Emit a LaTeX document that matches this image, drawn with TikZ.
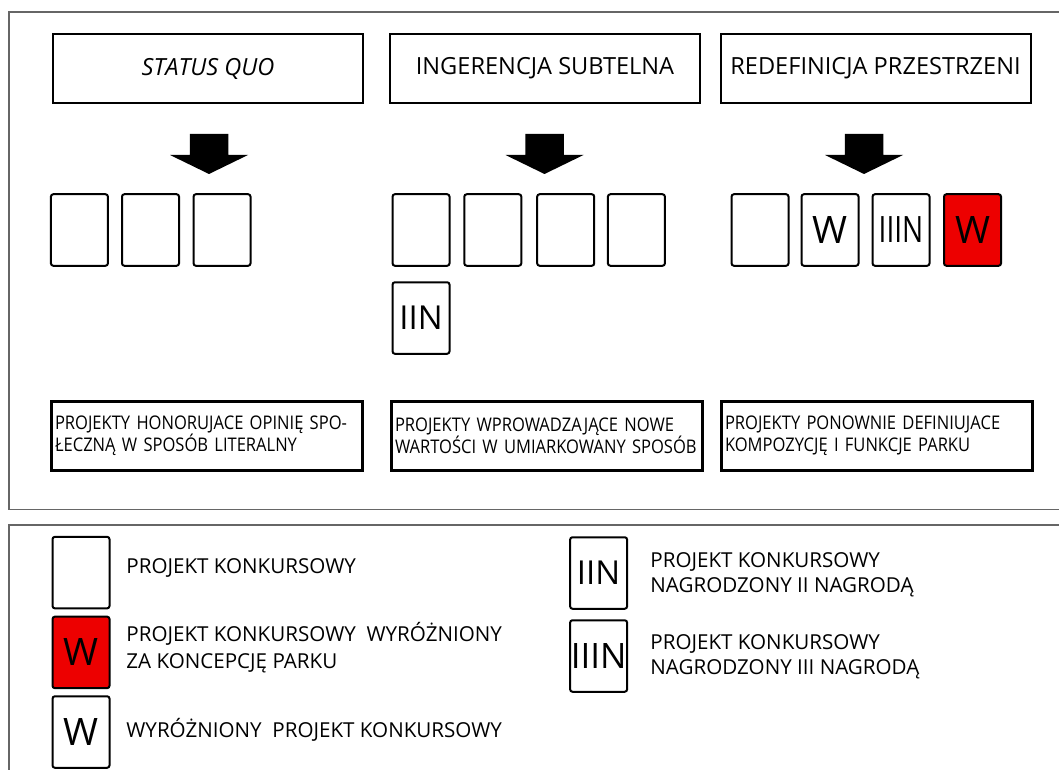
\documentclass[tikz,border=0pt]{standalone}
\usepackage{fontspec}
\setmainfont{Open Sans}
\newfontfamily\condfont[FakeStretch=0.88]{Open Sans}
\usepackage{xcolor}
\usetikzlibrary{positioning}

\definecolor{wred}{RGB}{237,0,0}

\tikzset{
	frame/.style={draw=black!60, line width=0.8pt},
	headbox/.style={draw, line width=1pt, minimum width=155pt, minimum height=34.5pt, inner sep=0pt, font=\fontsize{11.8}{13}\selectfont},
	descbox/.style={draw, line width=1.5pt, minimum height=34.5pt, text width=151.5pt, inner sep=2pt, align=left, font=\condfont\fontsize{9.4}{11.2}\selectfont},
	projbox/.style={draw, line width=1pt, rounded corners=1.2pt, minimum width=28.5pt, minimum height=35.75pt, inner sep=0pt},
	wbox/.style={projbox, font=\fontsize{18.9}{20}\selectfont},
	redbox/.style={wbox, fill=wred},
	nbox/.style={projbox, font=\fontsize{16.5}{18}\selectfont},
	legtext/.style={anchor=west, inner sep=0pt, align=left, font=\fontsize{10.3}{13}\selectfont}
}

\begin{document}
\begin{tikzpicture}[x=0.5pt,y=-0.5pt]
	\useasboundingbox (0,0) rectangle (1059,770);
	% frames
	\draw[frame] (1059,12) -- (9,12) -- (9,509.5) -- (1059,509.5);
	\draw[frame] (1059,524.7) -- (9,524.7) -- (9,770);
	% headers
	\node[headbox] (head1) at (208,68.5) {\textit{STATUS QUO}};
	\node[headbox] (head2) at (545,68.5) {INGERENCJA SUBTELNA};
	\node[headbox] (head3) at (875.5,68.5) {REDEFINICJA PRZESTRZENI};
	% arrows
	\foreach \cx in {209,544.5,864}
		\fill (\cx-19.25,134) -- (\cx+19.25,134) -- (\cx+19.25,155) -- (\cx+39,155) -- (\cx,174) -- (\cx-39,155) -- (\cx-19.25,155) -- cycle;
	% projects
	\foreach \px [count=\i] in {79.4,150.5,222}
		\node[projbox] (sq\i) at (\px,230) {};
	\foreach \px [count=\i] in {421,492.8,565.7,636.4}
		\node[projbox] (ing\i) at (\px,230) {};
	\node[nbox] (ing5) at (421,318) {\raisebox{-1.5pt}{IIN}};
	\node[projbox] (red1) at (760,230) {};
	\node[wbox] (red2) at (830,230) {\raisebox{-2.5pt}{W}};
	\node[nbox] (red3) at (901,230) {\raisebox{-2pt}{\scalebox{0.85}[1.1]{IIIN}}};
	\node[redbox] (red4) at (972.5,230) {\raisebox{-2.5pt}{W}};
	% descriptions
	\node[descbox] (desc1) at (206.5,435.5) {\mbox{PROJEKTY HONORUJACE OPINIĘ SPO-}\\\mbox{ŁECZNĄ W SPOSÓB LITERALNY}};
	\node[descbox] (desc2) at (546.5,435.5) {\mbox{PROJEKTY WPROWADZAJĄCE NOWE}\\\mbox{WARTOŚCI W UMIARKOWANY SPOSÓB}};
	\node[descbox] (desc3) at (876.5,435.5) {\mbox{PROJEKTY PONOWNIE DEFINIUJACE}\\\mbox{KOMPOZYCJĘ I FUNKCJE PARKU}};
	% legend
	\node[projbox] (leg1) at (81,572.6) {};
	\node[redbox] (leg2) at (81,652.4) {W};
	\node[wbox] (leg3) at (81,732) {W};
	\node[nbox] (leg4) at (598.6,573) {IIN};
	\node[nbox] (leg5) at (598.6,656) {\fontsize{17.5}{18}\selectfont IIIN};
	\node[legtext] (txt1) at (126,567.6) {PROJEKT KONKURSOWY};
	\node[legtext, font=\fontsize{10.3}{13.5}\selectfont] (txt2) at (126,648) {PROJEKT KONKURSOWY~~WYRÓŻNIONY\\ZA KONCEPCJĘ PARKU};
	\node[legtext] (txt3) at (126,729.7) {WYRÓŻNIONY~~PROJEKT KONKURSOWY};
	\node[legtext, font=\fontsize{10.3}{12.5}\selectfont] (txt4) at (650,574.4) {PROJEKT KONKURSOWY\\NAGRODZONY II NAGRODĄ};
	\node[legtext, font=\fontsize{10.3}{12.5}\selectfont] (txt5) at (650,656.3) {PROJEKT KONKURSOWY\\NAGRODZONY III NAGRODĄ};
\end{tikzpicture}
\end{document}
